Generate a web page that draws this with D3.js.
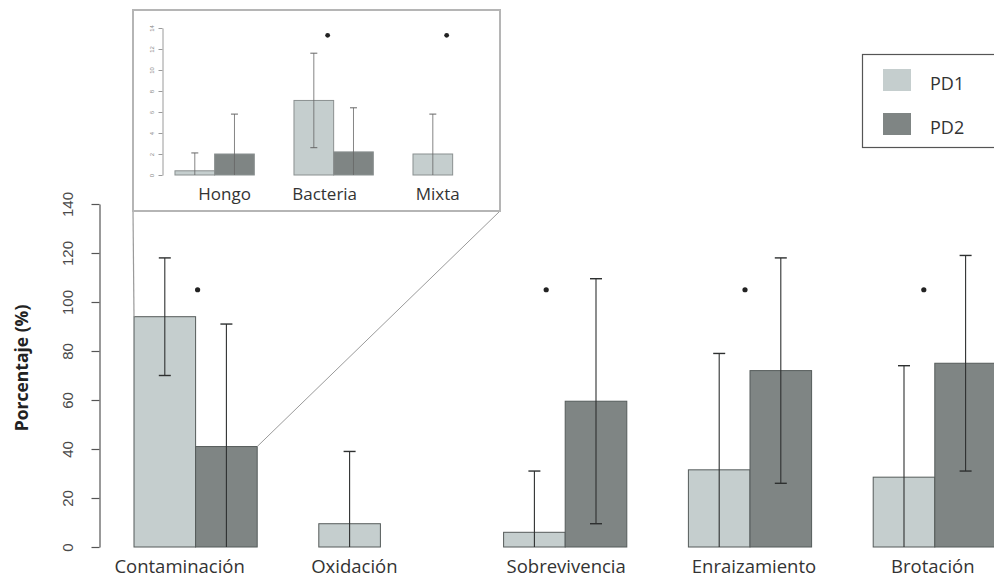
<!DOCTYPE html>
<html>
<head>
<meta charset="utf-8">
<script src="https://cdn.jsdelivr.net/npm/d3@7/dist/d3.min.js"></script>
<style>
  html, body { margin: 0; padding: 0; background: #fff; }
  svg { display: block; }
</style>
</head>
<body>
<svg id="chart" width="994" height="580"></svg>
<script>
// ---- Data: percentage per variable (mean and standard deviation) ----
const categories = ["Contaminación", "Oxidación", "Sobrevivencia", "Enraizamiento", "Brotación"];
const seriesNames = ["PD1", "PD2"];
const pd1Mean = [94, 9.5, 6, 31.5, 28.5];
const pd1Sd   = [24, 29.5, 25, 47.5, 45.5];
const pd2Mean = [41, 0, 59.5, 72, 75];
const pd2Sd   = [50, 0, 50, 46, 44];
const significant = ["Contaminación", "Sobrevivencia", "Enraizamiento", "Brotación"];
const yTicks = [0, 20, 40, 60, 80, 100, 120, 140];

// ---- Data: contamination breakdown (inset) ----
const insetCategories = ["Hongo", "Bacteria", "Mixta"];
const insetPd1Mean = [0.4, 7.1, 2.0];
const insetPd1Sd   = [1.7, 4.5, 3.8];
const insetPd2Mean = [2.0, 2.2, 0];
const insetPd2Sd   = [3.8, 4.2, 0];
const insetSignificant = ["Bacteria", "Mixta"];
const insetTicks = [0, 2, 4, 6, 8, 10, 12, 14];

const fills = { PD1: "#c5cece", PD2: "#7f8584" };
const barStroke = "#555b5a";
const errColor = "#2e3030";

const svg = d3.select("#chart");

// ================= Main chart =================
const y = d3.scaleLinear().domain([0, 140]).range([547, 204]);
const x = d3.scaleBand().domain(categories).range([72.4, 1058]).paddingInner(1 / 3).paddingOuter(1 / 3);
const xs = d3.scaleBand().domain(seriesNames).range([0, x.bandwidth()]);

const rows = categories.map((c, i) => ({
  cat: c,
  vals: [
    { s: "PD1", m: pd1Mean[i], sd: pd1Sd[i] },
    { s: "PD2", m: pd2Mean[i], sd: pd2Sd[i] }
  ]
}));

// y axis (R-style, rotated tick labels)
const yAxis = d3.axisLeft(y).tickValues(yTicks).tickSize(8).tickSizeOuter(0).tickPadding(0);
const yg = svg.append("g").attr("transform", "translate(99.5,0)").call(yAxis);
yg.select(".domain").attr("stroke", "#555").attr("stroke-width", 1.2);
yg.selectAll(".tick line").attr("stroke", "#555").attr("stroke-width", 1.2);
yg.selectAll(".tick text")
  .attr("x", 0).attr("y", 0).attr("dy", null)
  .attr("text-anchor", "middle")
  .attr("transform", "translate(-32,0) rotate(-90)")
  .attr("dominant-baseline", "central")
  .style("font-family", "'Liberation Sans', Arial, sans-serif")
  .style("font-size", "15px")
  .attr("fill", "#4a4a4a");

svg.append("text")
  .attr("transform", "translate(21,368) rotate(-90)")
  .attr("text-anchor", "middle")
  .attr("dominant-baseline", "central")
  .style("font-family", "'Open Sans', sans-serif")
  .style("font-weight", "bold")
  .style("font-size", "17.5px")
  .attr("fill", "#222")
  .text("Porcentaje (%)");

// bars
const groups = svg.append("g").selectAll("g.grp").data(rows).join("g")
  .attr("class", "grp")
  .attr("transform", d => `translate(${x(d.cat)},0)`);

groups.selectAll("rect").data(d => d.vals).join("rect")
  .attr("x", d => xs(d.s))
  .attr("width", xs.bandwidth())
  .attr("y", d => y(d.m))
  .attr("height", d => y(0) - y(d.m))
  .attr("fill", d => fills[d.s])
  .attr("stroke", barStroke)
  .attr("stroke-width", 1);

// error bars (clipped at zero, lower cap only when above zero)
const capW = 12;
groups.each(function (d) {
  const g = d3.select(this);
  d.vals.forEach(v => {
    if (v.sd <= 0) return;
    const cx = xs(v.s) + xs.bandwidth() / 2;
    const hi = v.m + v.sd, lo = Math.max(0, v.m - v.sd);
    g.append("line").attr("x1", cx).attr("x2", cx).attr("y1", y(hi)).attr("y2", y(lo))
      .attr("stroke", errColor).attr("stroke-width", 1.1);
    g.append("line").attr("x1", cx - capW / 2).attr("x2", cx + capW / 2).attr("y1", y(hi)).attr("y2", y(hi))
      .attr("stroke", errColor).attr("stroke-width", 1.4);
    if (v.m - v.sd > 0) {
      g.append("line").attr("x1", cx - capW / 2).attr("x2", cx + capW / 2).attr("y1", y(lo)).attr("y2", y(lo))
        .attr("stroke", errColor).attr("stroke-width", 1.4);
    }
  });
});

// significance marks
const sigNudge = { "Contaminación": 2, "Sobrevivencia": -19, "Enraizamiento": -5, "Brotación": -11 };
svg.append("g").selectAll("circle").data(significant).join("circle")
  .attr("cx", d => x(d) + x.bandwidth() / 2 + (sigNudge[d] || 0))
  .attr("cy", y(105))
  .attr("r", 2.6)
  .attr("fill", "#222");

// category labels
const labelNudge = { "Contaminación": -16, "Oxidación": -26, "Sobrevivencia": 1, "Enraizamiento": 4, "Brotación": -2 };
svg.append("g").selectAll("text").data(categories).join("text")
  .attr("x", d => x(d) + x.bandwidth() / 2 + (labelNudge[d] || 0))
  .attr("y", 573)
  .attr("text-anchor", "middle")
  .style("font-family", "'Open Sans', sans-serif")
  .style("font-size", "18.5px")
  .attr("fill", "#333")
  .text(d => d);

// ================= Legend =================
const leg = svg.append("g");
leg.append("rect").attr("x", 862.5).attr("y", 54.5).attr("width", 140).attr("height", 93)
  .attr("fill", "#fff").attr("stroke", "#555").attr("stroke-width", 1.2);
seriesNames.forEach((s, i) => {
  const cy = 80 + i * 44;
  leg.append("rect").attr("x", 883).attr("y", cy - 11).attr("width", 28).attr("height", 22)
    .attr("fill", fills[s]);
  leg.append("text").attr("x", 930).attr("y", cy + 3)
    .attr("dominant-baseline", "central")
    .style("font-family", "'Open Sans', sans-serif")
    .style("font-size", "18px")
    .attr("fill", "#333")
    .text(s);
});

// ================= Inset (contamination types) =================
const insetBox = { x0: 133, y0: 10, x1: 500, y1: 211 };
const contX = x("Contaminación");

// zoom connectors from the Contaminación bars to the inset frame
svg.append("line")
  .attr("x1", insetBox.x0).attr("y1", insetBox.y1)
  .attr("x2", contX + xs("PD1")).attr("y2", y(pd1Mean[0]))
  .attr("stroke", "#9a9a9a").attr("stroke-width", 1.2);
svg.append("line")
  .attr("x1", insetBox.x1).attr("y1", insetBox.y1)
  .attr("x2", contX + xs("PD2") + xs.bandwidth()).attr("y2", y(pd2Mean[0]))
  .attr("stroke", "#9a9a9a").attr("stroke-width", 1);

svg.append("rect")
  .attr("x", insetBox.x0).attr("y", insetBox.y0)
  .attr("width", insetBox.x1 - insetBox.x0).attr("height", insetBox.y1 - insetBox.y0)
  .attr("fill", "#fff").attr("stroke", "#b5b5b5").attr("stroke-width", 2);

const iy = d3.scaleLinear().domain([0, 14]).range([175, 28]);
const ix = d3.scaleBand().domain(insetCategories).range([135.3, 532]).paddingInner(1 / 3).paddingOuter(1 / 3);
const ixs = d3.scaleBand().domain(seriesNames).range([0, ix.bandwidth()]);

const iAxis = d3.axisLeft(iy).tickValues(insetTicks).tickSize(4).tickSizeOuter(0).tickPadding(0);
const ig = svg.append("g").attr("transform", "translate(162.5,0)").call(iAxis);
ig.select(".domain").attr("stroke", "#9a9a9a");
ig.selectAll(".tick line").attr("stroke", "#9a9a9a");
ig.selectAll(".tick text")
  .attr("x", 0).attr("y", 0).attr("dy", null)
  .attr("text-anchor", "middle")
  .attr("dominant-baseline", "central")
  .attr("transform", "translate(-11,0) rotate(-90)")
  .style("font-family", "'Liberation Sans', Arial, sans-serif")
  .style("font-size", "6px")
  .attr("fill", "#888");

const irows = insetCategories.map((c, i) => ({
  cat: c,
  vals: [
    { s: "PD1", m: insetPd1Mean[i], sd: insetPd1Sd[i] },
    { s: "PD2", m: insetPd2Mean[i], sd: insetPd2Sd[i] }
  ]
}));

const igroups = svg.append("g").selectAll("g.igrp").data(irows).join("g")
  .attr("class", "igrp")
  .attr("transform", d => `translate(${ix(d.cat)},0)`);

igroups.selectAll("rect").data(d => d.vals).join("rect")
  .attr("x", d => ixs(d.s))
  .attr("width", ixs.bandwidth())
  .attr("y", d => iy(d.m))
  .attr("height", d => iy(0) - iy(d.m))
  .attr("fill", d => fills[d.s])
  .attr("stroke", d => d.m > 0 ? "#8a9090" : "#6a6f6e")
  .attr("stroke-width", 1);

const icap = 7;
igroups.each(function (d) {
  const g = d3.select(this);
  d.vals.forEach(v => {
    if (v.sd <= 0) return;
    const cx = ixs(v.s) + ixs.bandwidth() / 2;
    const hi = v.m + v.sd, lo = Math.max(0, v.m - v.sd);
    g.append("line").attr("x1", cx).attr("x2", cx).attr("y1", iy(hi)).attr("y2", iy(lo))
      .attr("stroke", "#666").attr("stroke-width", 0.8);
    g.append("line").attr("x1", cx - icap / 2).attr("x2", cx + icap / 2).attr("y1", iy(hi)).attr("y2", iy(hi))
      .attr("stroke", "#666").attr("stroke-width", 1);
    if (v.m - v.sd > 0) {
      g.append("line").attr("x1", cx - icap / 2).attr("x2", cx + icap / 2).attr("y1", iy(lo)).attr("y2", iy(lo))
        .attr("stroke", "#666").attr("stroke-width", 1);
    }
  });
});

svg.append("g").selectAll("circle").data(insetSignificant).join("circle")
  .attr("cx", d => ix(d) + ix.bandwidth() / 2 - 6)
  .attr("cy", iy(13.3))
  .attr("r", 2.4)
  .attr("fill", "#222");

const iLabelNudge = { "Hongo": 10, "Bacteria": -9, "Mixta": -15 };
svg.append("g").selectAll("text").data(insetCategories).join("text")
  .attr("x", d => ix(d) + ix.bandwidth() / 2 + (iLabelNudge[d] || 0))
  .attr("y", 200)
  .attr("text-anchor", "middle")
  .style("font-family", "'Open Sans', sans-serif")
  .style("font-size", "17px")
  .attr("fill", "#333")
  .text(d => d);
</script>
</body>
</html>
